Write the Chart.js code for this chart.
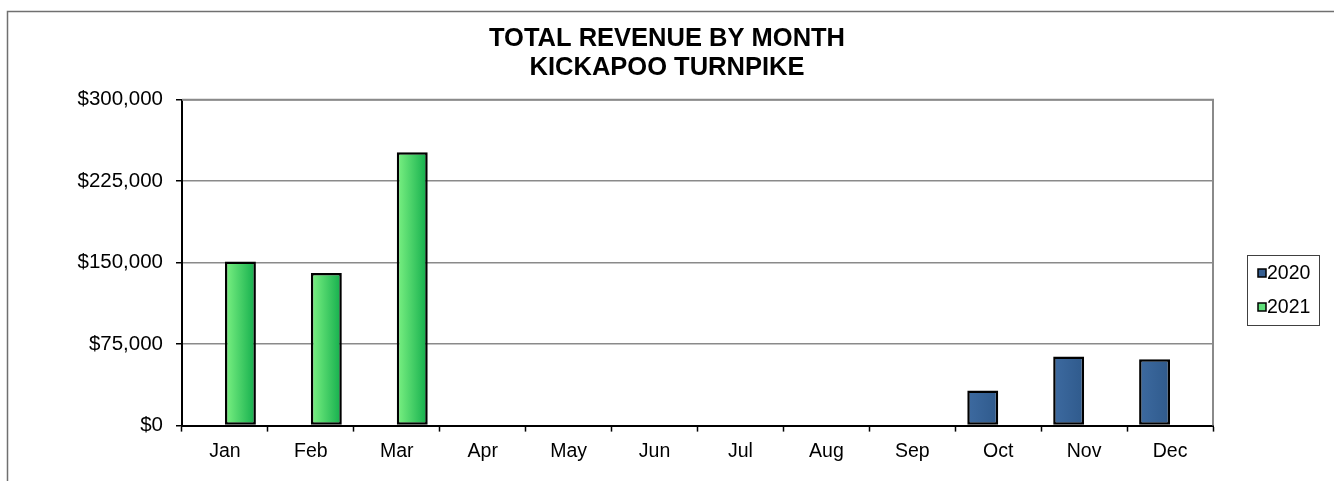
<!DOCTYPE html>
<html>
<head>
<meta charset="utf-8">
<script src="https://cdn.jsdelivr.net/npm/chart.js@4.4.1/dist/chart.umd.min.js"></script>
<style>
  html, body { margin: 0; padding: 0; background: #fff; }
  #wrap { position: relative; width: 1334px; height: 481px; }
</style>
</head>
<body>
<div id="wrap"><canvas id="c" width="1334" height="481"></canvas></div>
<script>
const months = ['Jan','Feb','Mar','Apr','May','Jun','Jul','Aug','Sep','Oct','Nov','Dec'];
const revenue2020 = [null, null, null, null, null, null, null, null, null, 32200, 63500, 61000];
const revenue2021 = [151000, 140500, 251500, null, null, null, null, null, null, null, null, null];
const seriesLabels = ['2020', '2021'];
const yTicks = [0, 75000, 150000, 225000, 300000];
const titleLines = ['TOTAL REVENUE BY MONTH', 'KICKAPOO TURNPIKE'];

const FONT = '"Liberation Sans", Arial, sans-serif';
const colors2020 = ['#3d6aa0', '#2f5a8c'];
const colors2021 = ['#7cf283', '#12ad4c'];

const frame = {
  id: 'frame',
  beforeDraw(chart) {
    const ctx = chart.ctx;
    ctx.save();
    ctx.fillStyle = '#fff';
    ctx.fillRect(0, 0, chart.width, chart.height);
    ctx.strokeStyle = '#707070';
    ctx.lineWidth = 1.5;
    ctx.beginPath();
    ctx.moveTo(7.5, 481);
    ctx.lineTo(7.5, 11.5);
    ctx.lineTo(1334, 11.5);
    ctx.stroke();
    ctx.restore();
  },
  beforeDatasetsDraw(chart) {
    const ctx = chart.ctx;
    const a = chart.chartArea;
    ctx.save();
    ctx.strokeStyle = '#8a8a8a';
    ctx.lineWidth = 2;
    ctx.beginPath();
    ctx.moveTo(a.left, a.top);
    ctx.lineTo(a.right, a.top);
    ctx.lineTo(a.right, a.bottom);
    ctx.stroke();
    ctx.restore();
    chart.data.datasets.forEach((ds, di) => {
      const meta = chart.getDatasetMeta(di);
      const cols = di === 0 ? colors2020 : colors2021;
      meta.data.forEach(el => {
        if (el.x == null || isNaN(el.x)) return;
        const g = ctx.createLinearGradient(el.x - el.width / 2, 0, el.x + el.width / 2, 0);
        g.addColorStop(0, cols[0]);
        g.addColorStop(1, cols[1]);
        el.options.backgroundColor = g;
      });
    });
  },
  afterDraw(chart) {
    const ctx = chart.ctx;
    ctx.save();
    ctx.strokeStyle = '#404040';
    ctx.lineWidth = 1;
    ctx.strokeRect(1247.5, 255.5, 72, 70);
    ctx.font = '19.5px ' + FONT;
    ctx.textBaseline = 'middle';
    ctx.textAlign = 'left';
    const items = [
      { label: chart.data.datasets[0].label, color: '#355e91', y: 273 },
      { label: chart.data.datasets[1].label, color: '#5fe07a', y: 307 }
    ];
    items.forEach(it => {
      ctx.fillStyle = it.color;
      ctx.fillRect(1258, it.y - 4, 8, 8);
      ctx.strokeStyle = '#000';
      ctx.lineWidth = 1.5;
      ctx.strokeRect(1258, it.y - 4, 8, 8);
      ctx.fillStyle = '#000';
      ctx.fillText(it.label, 1267, it.y + 1);
    });
    ctx.restore();
  }
};

new Chart(document.getElementById('c'), {
  type: 'bar',
  data: {
    labels: months,
    datasets: [
      {
        label: seriesLabels[0],
        data: revenue2020,
        backgroundColor: () => '#355e91',
        borderColor: '#000',
        borderWidth: 2.5,
        borderSkipped: false,
        categoryPercentage: 0.72,
        barPercentage: 1.0
      },
      {
        label: seriesLabels[1],
        data: revenue2021,
        backgroundColor: () => '#4fd66a',
        borderColor: '#000',
        borderWidth: 2.5,
        borderSkipped: false,
        categoryPercentage: 0.72,
        barPercentage: 1.0
      }
    ]
  },
  options: {
    responsive: false,
    animation: false,
    events: [],
    layout: { padding: { left: 0, right: 0, top: 0, bottom: 10 } },
    plugins: {
      legend: { display: false },
      tooltip: { enabled: false },
      title: {
        display: true,
        text: titleLines,
        color: '#000',
        font: { family: FONT, size: 25.5, weight: 'bold', lineHeight: 1.15 },
        padding: { top: 24, bottom: 17 }
      }
    },
    scales: {
      x: {
        offset: true,
        grid: {
          offset: true,
          drawOnChartArea: false,
          drawTicks: true,
          tickLength: 6,
          tickColor: '#000',
          tickWidth: 1.5
        },
        border: { display: true, color: '#000', width: 2 },
        ticks: {
          color: '#000',
          font: { family: FONT, size: 19.5 },
          padding: 8,
          maxRotation: 0,
          autoSkip: false
        }
      },
      y: {
        min: 0,
        max: 300000,
        afterFit(scale) { scale.width = 182; },
        afterBuildTicks(scale) { scale.ticks = yTicks.map(v => ({ value: v })); },
        grid: {
          color: '#8a8a8a',
          lineWidth: 1.5,
          drawTicks: true,
          tickLength: 6,
          tickColor: '#000',
          tickWidth: 1.5
        },
        border: { display: true, color: '#000', width: 2 },
        ticks: {
          color: '#000',
          font: { family: FONT, size: 20.5 },
          padding: 13,
          callback: v => '$' + Number(v).toLocaleString('en-US')
        }
      },
      yRight: {
        position: 'right',
        display: true,
        min: 0,
        max: 300000,
        afterFit(scale) { scale.width = 121; },
        grid: { display: false, drawTicks: false },
        border: { display: false },
        ticks: { display: false }
      }
    }
  },
  plugins: [frame]
});
</script>
</body>
</html>
